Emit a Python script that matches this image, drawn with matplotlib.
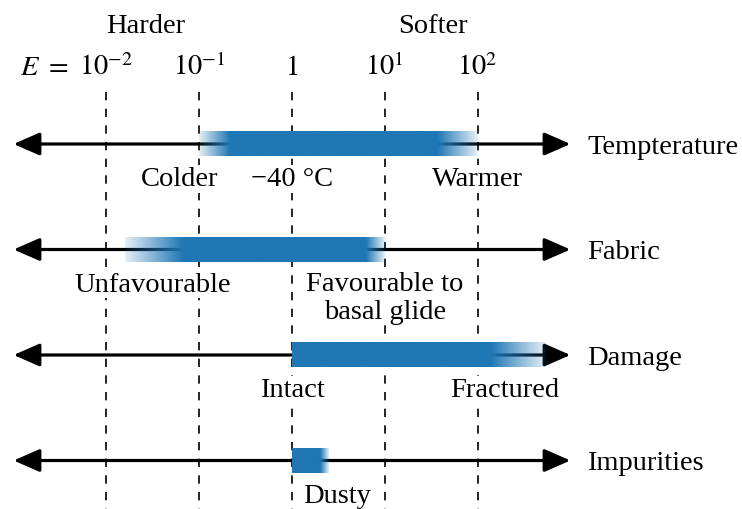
import numpy as np
import matplotlib.pyplot as plt
from matplotlib.patches import FancyArrowPatch

plt.rcParams['font.family'] = ['Liberation Serif', 'DejaVu Serif']
plt.rcParams['mathtext.fontset'] = 'stix'
plt.rcParams['lines.scale_dashes'] = False

# enhancement factor decades, x is log10(E)
tick_exps = [-2, -1, 0, 1, 2]
tick_labels = [r'$10^{-2}$', r'$10^{-1}$', r'$1$', r'$10^{1}$', r'$10^{2}$']

factors = ['Tempterature', 'Fabric', 'Damage', 'Impurities']
bar_start = [-1.0, -1.8, 0.0, 0.0]
bar_end = [2.0, 1.0, 2.73, 0.39]
# width of the faded ends, in decades
fade_left = [0.33, 0.62, 0.0, 0.0]
fade_right = [0.43, 0.2, 0.59, 0.09]

# text under each line
note_row = [0, 0, 0, 1, 1, 2, 2, 3]
note_x = [-1.21, 0.0, 2.0, -1.5, 1.0, 0.0, 2.29, 0.49]
note_text = ['Colder', '\u221240 \u00b0C', 'Warmer', 'Unfavourable',
             'Favourable to\nbasal glide', 'Intact', 'Fractured', 'Dusty']
note_box = [True, True, True, True, True, True, True, False]

axis_ends = (-3.0, 3.0)
blue = np.array([31, 119, 180]) / 255.0
bar_h = 0.23
fs = 20.5
line_step = 0.256  # baseline to baseline, in row units

fig = plt.figure(figsize=(7.42, 5.10), dpi=100)
ax = fig.add_axes([0, 0, 1, 1])

# dashed guides at each decade
ax.vlines(tick_exps, -0.49, 4, colors='black', lw=1.2,
          linestyles=[(0, (6, 6))], zorder=1)

for i, name in enumerate(factors):
    arr = FancyArrowPatch((axis_ends[0], i), (axis_ends[1], i),
                          arrowstyle='<|-|>,head_length=16,head_width=7',
                          mutation_scale=1, lw=2.3, color='black',
                          shrinkA=0, shrinkB=0, zorder=2)
    ax.add_patch(arr)

    # bar with soft ends
    xs = np.linspace(bar_start[i], bar_end[i], 400)
    alpha = np.ones_like(xs)
    if fade_left[i] > 0:
        a = 0.12 + 0.88 * (xs - bar_start[i]) / fade_left[i]
        alpha = np.minimum(alpha, a)
    if fade_right[i] > 0:
        a = 0.12 + 0.88 * (bar_end[i] - xs) / fade_right[i]
        alpha = np.minimum(alpha, a)
    img = np.zeros((1, len(xs), 4))
    img[..., :3] = blue
    img[0, :, 3] = np.clip(alpha, 0, 1)
    ax.imshow(img, extent=(bar_start[i], bar_end[i], i + bar_h / 2, i - bar_h / 2),
              aspect='auto', interpolation='bilinear', zorder=3)

    ax.text(3.18, i + 0.085, name, fontsize=fs, ha='left', va='baseline', zorder=5)

for r, x, s, boxed in zip(note_row, note_x, note_text, note_box):
    kw = {}
    if boxed:
        kw['bbox'] = dict(fc='white', ec='none', pad=1)
    # baseline alignment goes by the last line
    y = r + 0.39 + s.count('\n') * line_step
    ax.text(x, y, s, fontsize=fs, ha='center', va='baseline',
            linespacing=1.15, zorder=4, **kw)

# decade labels along the top
for x, lab in zip(tick_exps, tick_labels):
    ax.text(x, -0.664, lab, fontsize=fs, ha='center', va='baseline')
ax.text(-2.41, -0.664, r'$E\ =$', fontsize=fs, ha='right', va='baseline')
ax.text(-1.58, -1.062, 'Harder', fontsize=fs, ha='center', va='baseline')
ax.text(1.52, -1.062, 'Softer', fontsize=fs, ha='center', va='baseline')

ax.set_xlim(-292 / 92.8, 450 / 92.8)
ax.set_ylim(365 / 105.5, -145 / 105.5)
ax.axis('off')

fig.savefig('out.png', dpi=100)
